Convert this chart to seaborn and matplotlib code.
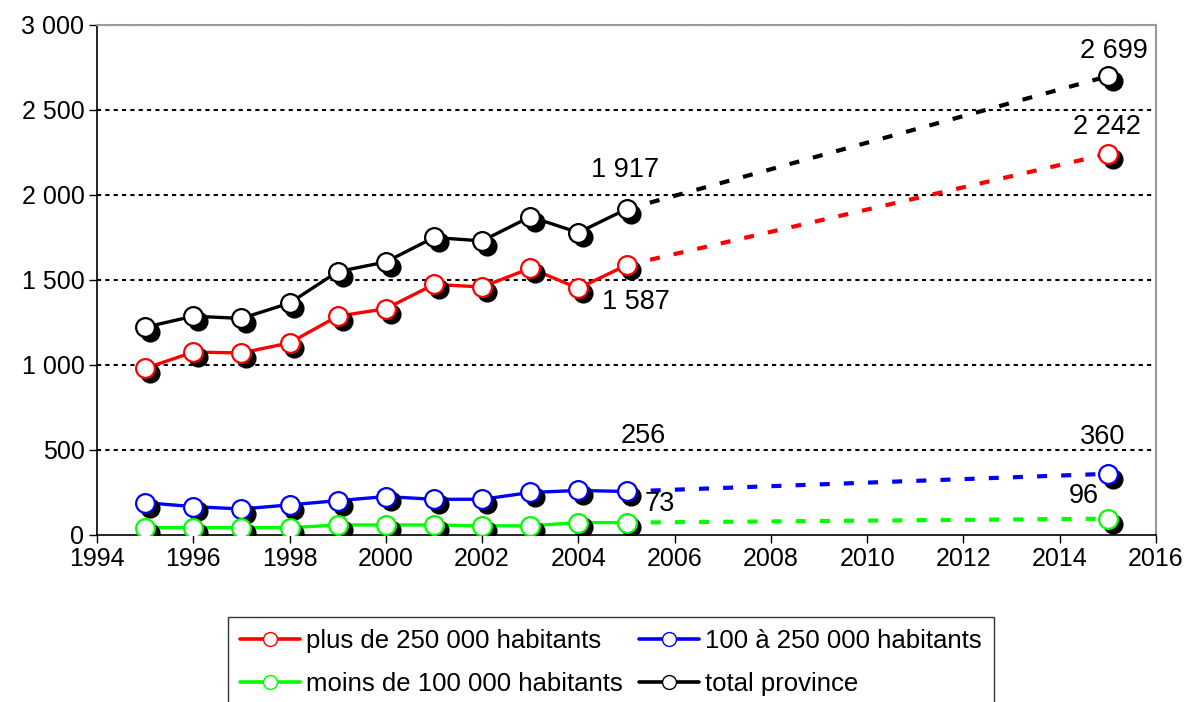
import matplotlib
matplotlib.use("Agg")
import matplotlib.pyplot as plt
import matplotlib.transforms as mtransforms
import seaborn as sns
import pandas as pd

# ---- data ----
years = [1995, 1996, 1997, 1998, 1999, 2000, 2001, 2002, 2003, 2004, 2005]
proj_years = [2005, 2015]
plus_250 = [980, 1076, 1071, 1130, 1287, 1331, 1474, 1459, 1569, 1451, 1587]
de_100_250 = [190, 167, 153, 177, 202, 226, 210, 210, 250, 262, 256]
moins_100 = [43, 43, 43, 43, 59, 59, 59, 54, 54, 73, 73]
total = [1222, 1287, 1274, 1364, 1549, 1606, 1750, 1730, 1872, 1779, 1917]
proj_2015 = {"plus": 2242, "mid": 360, "moins": 96, "total": 2699}
labels = ["plus de 250 000 habitants", "100 à 250 000 habitants",
          "moins de 100 000 habitants", "total province"]
yticks = [0, 500, 1000, 1500, 2000, 2500, 3000]
xticks = list(range(1994, 2017, 2))

sns.set_theme(style="white")
plt.rcParams["font.family"] = ["Liberation Sans", "DejaVu Sans"]
plt.rcParams["text.color"] = "black"
plt.rcParams["xtick.color"] = "black"
plt.rcParams["ytick.color"] = "black"

fig = plt.figure(figsize=(11.84, 7.02), dpi=100)
ax = fig.add_axes([0.0819, 0.2379, 0.8945, 0.7265])

series = [
    ("plus", plus_250, "#ff0000", labels[0]),
    ("mid", de_100_250, "#0000ff", labels[1]),
    ("moins", moins_100, "#00ff00", labels[2]),
    ("total", total, "#000000", labels[3]),
]

shadow = ax.transData + mtransforms.ScaledTranslation(3.5 / 72, -3.5 / 72, fig.dpi_scale_trans)
handles = {}
for key, vals, col, lab in series:
    df = pd.DataFrame({"x": years, "y": vals})
    sns.lineplot(data=df, x="x", y="y", color=col, linewidth=2.4, ax=ax, zorder=3)
    dfp = pd.DataFrame({"x": proj_years, "y": [vals[-1], proj_2015[key]]})
    sns.lineplot(data=dfp, x="x", y="y", color=col, linewidth=3.0, ax=ax,
                 dashes=False, zorder=3).lines[-1].set_dashes((2.4, 3.4))
    allx = years + [2015]
    ally = vals + [proj_2015[key]]
    ax.plot(allx, ally, linestyle="none", marker="o", markersize=13.5,
            markerfacecolor="black", markeredgecolor="black", transform=shadow, zorder=4)
    ax.plot(allx, ally, linestyle="none", marker="o", markersize=13.5,
            markerfacecolor="white", markeredgecolor=col, markeredgewidth=1.6, zorder=5)
    handles[key] = plt.Line2D([], [], color=col, linewidth=2.6, marker="o", markersize=10,
                              markerfacecolor="white", markeredgecolor=col, label=lab)

# annotations: (year, value, text, offset in points)
ann = [
    (2005, total[-1], "1 917", (-1, 28)),
    (2015, proj_2015["total"], "2 699", (4, 18)),
    (2015, proj_2015["plus"], "2 242", (-1, 19.5)),
    (2005, plus_250[-1], "1 587", (6.5, -26.5)),
    (2005, de_100_250[-1], "256", (12, 40)),
    (2005, moins_100[-1], "73", (24, 13.5)),
    (2015, proj_2015["mid"], "360", (-4, 26.5)),
    (2015, proj_2015["moins"], "96", (-17, 16.5)),
]
for x, y, t, off in ann:
    ax.annotate(t, xy=(x, y), xytext=off, textcoords="offset points",
                ha="center", va="center", fontsize=19.5, color="black", zorder=6)

ax.set_xlim(1994, 2016)
ax.set_ylim(0, 3000)
ax.set_xticks(xticks)
ax.set_yticks(yticks)
ax.set_yticklabels([f"{v:,}".replace(",", " ") for v in yticks])
ax.set_xlabel("")
ax.set_ylabel("")
for v in yticks[1:]:
    ax.axhline(v, color="black", linestyle=(0, (2, 2)), linewidth=1.5, zorder=1)

for s in ["left", "bottom"]:
    ax.spines[s].set_color("black")
    ax.spines[s].set_linewidth(1.2)
for s in ["top", "right"]:
    ax.spines[s].set_color("#999999")
    ax.spines[s].set_linewidth(1.5)
ax.tick_params(axis="both", which="both", direction="out", length=6, width=1.0,
               color="black", labelcolor="black", labelsize=18, pad=3)
ax.tick_params(axis="y", left=True)
ax.tick_params(axis="x", bottom=True)

order = ["plus", "moins", "mid", "total"]
leg = fig.legend(handles=[handles[k] for k in order], ncol=2,
                 loc="upper left", bbox_to_anchor=(0.1926, 0.121), borderaxespad=0,
                 frameon=True, fancybox=False, fontsize=18.5, handlelength=2.35,
                 columnspacing=0.6, handletextpad=0.25, borderpad=0.45, labelspacing=0.75)
leg.get_frame().set_edgecolor("black")
leg.get_frame().set_linewidth(1.0)
for t in leg.get_texts():
    t.set_color("black")

fig.savefig("out.png", dpi=100)
